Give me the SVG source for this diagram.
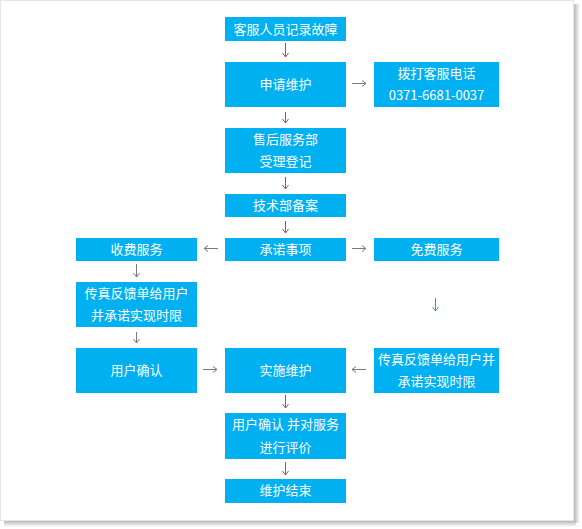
<svg xmlns="http://www.w3.org/2000/svg" width="582" height="529" viewBox="0 0 582 529">
<defs>
<linearGradient id="shR" x1="0" y1="0" x2="1" y2="0"><stop offset="0" stop-color="#b8b8b8"/><stop offset="1" stop-color="#ffffff"/></linearGradient>
<linearGradient id="shB" x1="0" y1="0" x2="0" y2="1"><stop offset="0" stop-color="#b8b8b8"/><stop offset="1" stop-color="#ffffff"/></linearGradient>
<style>
.box{fill:#00b0f0}
.t{fill:#ffffff;font-family:"Microsoft YaHei","Noto Sans CJK SC","Noto Sans",sans-serif;font-size:13px;text-anchor:middle}
.a{fill:none;stroke-width:1}
.c{stroke:#a05555}
.g{stroke:#7a7a7a}
.b{stroke:#4f8f9c}
</style>
</defs>
<rect x="0" y="0" width="582" height="529" fill="#ffffff"/>
<rect x="574" y="4" width="6" height="519" fill="url(#shR)"/>
<rect x="4" y="521" width="572" height="6" fill="url(#shB)"/>
<rect x="0.5" y="0.5" width="573" height="520" fill="#ffffff" stroke="#e6e6e6"/>

<g id="connectors">
<path class="a c" d="M285.5 43V57M282.5 53L285.5 57L288.5 53"/>
<path class="a g" d="M352 83.5H366M362 80.5L366 83.5L362 86.5"/>
<path class="a c" d="M285.5 112V123M282.5 119L285.5 123L288.5 119"/>
<path class="a c" d="M285.5 177V189M282.5 185L285.5 189L288.5 185"/>
<path class="a c" d="M285.5 221V233M282.5 229L285.5 233L288.5 229"/>
<path class="a g" d="M218 248.5H204M208 245.5L204 248.5L208 251.5"/>
<path class="a g" d="M352 248.5H366M362 245.5L366 248.5L362 251.5"/>
<path class="a g" d="M136.5 264V277M133.5 273L136.5 277L139.5 273"/>
<path class="a b" d="M435.5 298V311M432.5 307L435.5 311L438.5 307"/>
<path class="a g" d="M136.5 332V343M133.5 339L136.5 343L139.5 339"/>
<path class="a g" d="M203 369.5H217M213 366.5L217 369.5L213 372.5"/>
<path class="a g" d="M366 369.5H352M356 366.5L352 369.5L356 372.5"/>
<path class="a c" d="M285.5 395V408M282.5 404L285.5 408L288.5 404"/>
<path class="a c" d="M285.5 462V475M282.5 471L285.5 475L288.5 471"/>
</g>

<g id="n1"><rect class="box" x="225" y="17" width="121" height="24"/><text class="t" x="285.5" y="33.5">客服人员记录故障</text></g>
<g id="n2"><rect class="box" x="225" y="62" width="121" height="45"/><text class="t" x="285.5" y="88.5">申请维护</text></g>
<g id="n3"><rect class="box" x="374" y="62" width="125" height="45"/><text class="t" x="436.5" y="77.5">拨打客服电话</text><text class="t" x="436.5" y="99.5">0371-6681-0037</text></g>
<g id="n4"><rect class="box" x="225" y="128" width="121" height="45"/><text class="t" x="285.5" y="143.5">售后服务部</text><text class="t" x="285.5" y="165.5">受理登记</text></g>
<g id="n5"><rect class="box" x="225" y="194" width="121" height="23"/><text class="t" x="285.5" y="210">技术部备案</text></g>
<g id="n6"><rect class="box" x="225" y="238" width="121" height="23"/><text class="t" x="285.5" y="254">承诺事项</text></g>
<g id="n7"><rect class="box" x="76" y="238" width="121" height="23"/><text class="t" x="136.5" y="254">收费服务</text></g>
<g id="n8"><rect class="box" x="374" y="238" width="125" height="23"/><text class="t" x="436.5" y="254">免费服务</text></g>
<g id="n9"><rect class="box" x="76" y="282" width="121" height="45"/><text class="t" x="136.5" y="297.5">传真反馈单给用户</text><text class="t" x="136.5" y="320">并承诺实现时限</text></g>
<g id="n10"><rect class="box" x="76" y="348" width="121" height="45"/><text class="t" x="136.5" y="374.5">用户确认</text></g>
<g id="n11"><rect class="box" x="225" y="348" width="121" height="45"/><text class="t" x="285.5" y="374.5">实施维护</text></g>
<g id="n12"><rect class="box" x="374" y="348" width="125" height="45"/><text class="t" x="436.5" y="363.5">传真反馈单给用户并</text><text class="t" x="436.5" y="386">承诺实现时限</text></g>
<g id="n13"><rect class="box" x="225" y="413" width="121" height="46"/><text class="t" x="285.5" y="428.5">用户确认 并对服务</text><text class="t" x="285.5" y="451.5">进行评价</text></g>
<g id="n14"><rect class="box" x="225" y="479" width="121" height="24"/><text class="t" x="285.5" y="495">维护结束</text></g>
</svg>
